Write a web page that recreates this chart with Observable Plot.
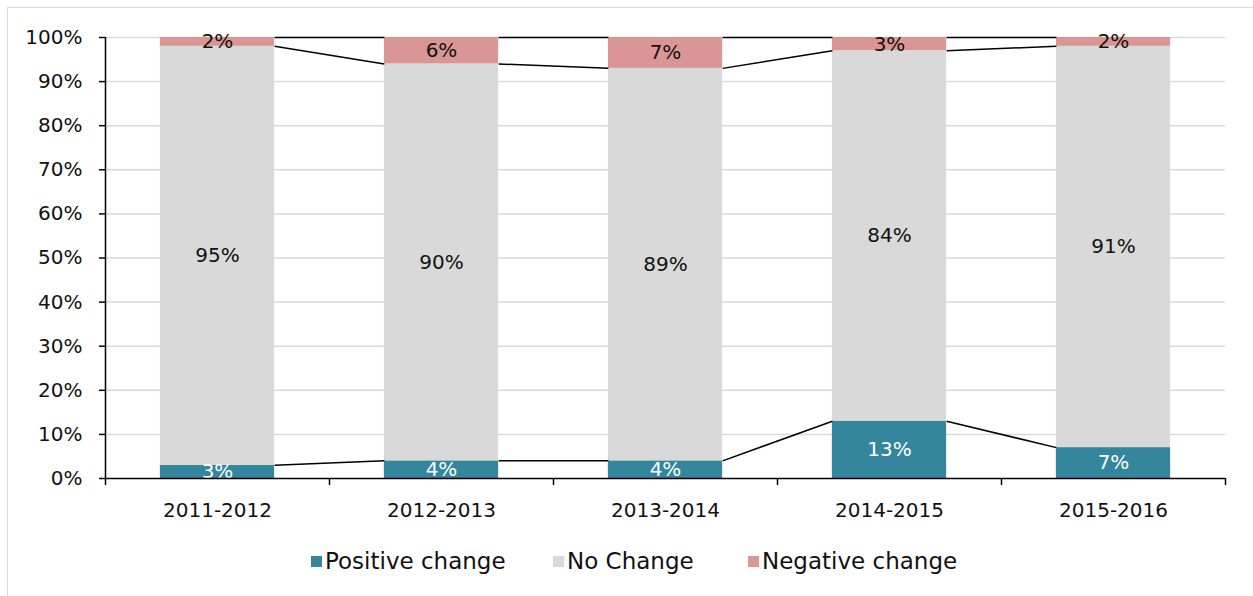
<!DOCTYPE html>
<html>
<head>
<meta charset="utf-8">
<script src="https://cdn.jsdelivr.net/npm/d3@7"></script>
<script src="https://cdn.jsdelivr.net/npm/@observablehq/plot@0.6"></script>
<style>
  html, body { margin: 0; padding: 0; background: #fff; }
  body { width: 1253px; height: 596px; position: relative; overflow: hidden; font-family: "DejaVu Sans", sans-serif; }
  #frame { position: absolute; left: 7px; top: 7px; width: 1250px; height: 600px; border: 1.5px solid #d9d9d9; box-sizing: border-box; }
  #chart { position: absolute; left: 0; top: 0; }
  #legend { position: absolute; left: 0; top: 0; width: 1253px; height: 596px; font-size: 23px; color: #111; }
  .sw { position: absolute; width: 11px; height: 11px; top: 556px; }
  .lt { position: absolute; top: 547px; line-height: 28px; white-space: nowrap; }
</style>
</head>
<body>
<div id="frame"></div>
<div id="chart"></div>
<div id="legend"></div>
<script>
const categories = ["2011-2012", "2012-2013", "2013-2014", "2014-2015", "2015-2016"];
const seriesNames = ["Positive change", "No Change", "Negative change"];
const positive = [3, 4, 4, 13, 7];
const noChange = [95, 90, 89, 84, 91];
const negative = [2, 6, 7, 3, 2];
const colors = ["#33869c", "#d9d9d9", "#da9694"];
const labelColors = ["#ffffff", "#111111", "#111111"];
const yTicks = [0, 10, 20, 30, 40, 50, 60, 70, 80, 90, 100];

const half = 0.255;
const seriesValues = [positive, noChange, negative];
const segs = [];
categories.forEach((c, i) => {
  let base = 0;
  seriesValues.forEach((vals, s) => {
    const v = vals[i];
    segs.push({i, s, v, y1: base, y2: base + v, x1: i - half, x2: i + half});
    base += v;
  });
});
const links = [];
for (let s = 0; s < 3; s++) {
  for (let i = 0; i < categories.length - 1; i++) {
    const a = segs.find(d => d.i === i && d.s === s);
    const b = segs.find(d => d.i === i + 1 && d.s === s);
    links.push({x1: i + half, x2: i + 1 - half, y1: a.y2, y2: b.y2});
  }
}
const boundaries = d3.range(categories.length + 1).map(k => k - 0.5);

const chart = Plot.plot({
  width: 1253,
  height: 545,
  marginLeft: 105,
  marginRight: 28,
  marginTop: 37,
  marginBottom: 67,
  style: {fontFamily: "'DejaVu Sans', sans-serif", fontSize: "20px", color: "#111", background: "transparent"},
  x: {type: "linear", domain: [-0.5, categories.length - 0.5], axis: null},
  y: {domain: [0, 100], axis: null},
  marks: [
    Plot.ruleY(yTicks.filter(t => t > 0), {stroke: "#d9d9d9", strokeWidth: 1.5}),
    Plot.rect(segs, {x1: "x1", x2: "x2", y1: "y1", y2: "y2", fill: d => colors[d.s]}),
    Plot.link(links, {x1: "x1", x2: "x2", y1: "y1", y2: "y2", stroke: "#000", strokeWidth: 1.5}),
    Plot.text(segs, {x: "i", y: d => (d.y1 + d.y2) / 2, text: d => d.v + "%", fill: d => labelColors[d.s], fontSize: 20}),
    Plot.axisY({ticks: yTicks, tickFormat: d => d + "%", tickSize: 6, tickPadding: 17, stroke: "#000", strokeWidth: 1.5, fontSize: 20}),
    Plot.ruleX([-0.5], {stroke: "#000", strokeWidth: 1.5}),
    Plot.ruleY([0], {stroke: "#000", strokeWidth: 1.5}),
    Plot.axisX({ticks: boundaries, tickFormat: () => "", tickSize: 7, stroke: "#000", strokeWidth: 1.5}),
    Plot.axisX({ticks: d3.range(categories.length), tickFormat: i => categories[i], tickSize: 0, tickPadding: 24, fontSize: 20})
  ]
});
document.getElementById("chart").appendChild(chart);

const legend = document.getElementById("legend");
const swX = [311, 553, 748];
seriesNames.forEach((n, s) => {
  const sw = document.createElement("div");
  sw.className = "sw";
  sw.style.left = swX[s] + "px";
  sw.style.background = colors[s];
  const t = document.createElement("div");
  t.className = "lt";
  t.style.left = (swX[s] + 14) + "px";
  t.textContent = n;
  legend.appendChild(sw); legend.appendChild(t);
});
</script>
</body>
</html>
